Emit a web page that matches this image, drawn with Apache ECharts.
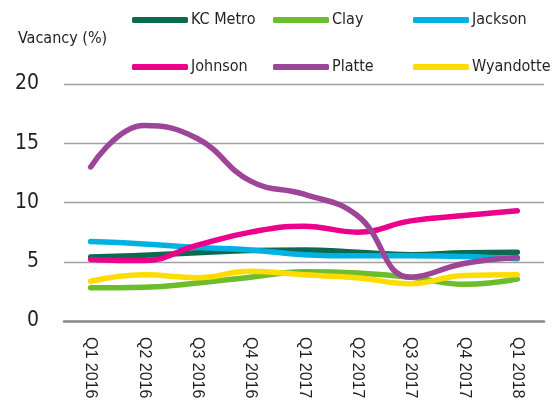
<!DOCTYPE html>
<html>
<head>
<meta charset="utf-8">
<script src="https://cdn.jsdelivr.net/npm/echarts@6/dist/echarts.min.js"></script>
<style>
    html, body { margin: 0; padding: 0; background: #fff; }
    #chart { width: 560px; height: 407px; }
</style>
</head>
<body>
<div id="chart"></div>
<script>
// quarters on the x axis
var categories = ['Q1 2016', 'Q2 2016', 'Q3 2016', 'Q4 2016', 'Q1 2017', 'Q2 2017', 'Q3 2017', 'Q4 2017', 'Q1 2018'];
var yTicks = [0, 5, 10, 15, 20];

// vacancy (%) per area
var kcMetro   = [5.4, 5.55, 5.75, 5.95, 6.0, 5.8, 5.6, 5.75, 5.8];
var clay      = [2.8, 2.85, 3.2, 3.7, 4.15, 4.05, 3.7, 3.1, 3.55];
var jackson   = [6.7, 6.5, 6.2, 6.0, 5.6, 5.5, 5.5, 5.45, 5.25];
var johnson   = [5.2, 5.1, 6.4, 7.5, 8.0, 7.5, 8.45, 8.9, 9.3];
var platte    = [13.0, 16.5, 15.4, 11.8, 10.7, 8.9, 3.7, 4.85, 5.35];
var wyandotte = [3.35, 3.9, 3.65, 4.2, 3.9, 3.65, 3.15, 3.85, 3.9];

var names  = ['KC Metro', 'Clay', 'Jackson', 'Johnson', 'Platte', 'Wyandotte'];
var values = [kcMetro, clay, jackson, johnson, platte, wyandotte];
var colors = ['#0b6b50', '#6cbd2c', '#00b1e1', '#ec008c', '#9e4598', '#ffdc00'];

var narrow = '"DejaVu Sans Condensed", "Liberation Sans Narrow", sans-serif';
var ink = '#231f20';

function legendCol(left, data) {
    return {
        orient: 'vertical',
        left: left,
        top: 10,
        padding: 0,
        icon: 'roundRect',
        itemWidth: 56,
        itemHeight: 6,
        itemGap: 27,
        textStyle: { fontFamily: narrow, fontSize: 16, color: ink, lineHeight: 20, padding: [0, 0, 0, -2] },
        data: data
    };
}

var myChart = echarts.init(document.getElementById('chart'), null, { renderer: 'canvas' });

var series = names.map(function (n, i) {
    return {
        name: n,
        type: 'line',
        smooth: 0.45,
        showSymbol: false,
        data: values[i],
        lineStyle: { width: 5.5, color: colors[i], cap: 'round', join: 'round' },
        itemStyle: { color: colors[i] }
    };
});

var option = {
    animation: false,
    color: colors,
    title: {
        text: 'Vacancy (%)',
        left: 18,
        top: 31,
        padding: 0,
        textStyle: { fontFamily: narrow, fontSize: 16, fontWeight: 'normal', color: ink }
    },
    legend: [
        legendCol(132, ['KC Metro', 'Johnson']),
        legendCol(273, ['Clay', 'Platte']),
        legendCol(413, ['Jackson', 'Wyandotte'])
    ],
    grid: { left: 64, right: 16, top: 84, bottom: 86 },
    xAxis: {
        type: 'category',
        data: categories,
        boundaryGap: true,
        axisLine: { show: true, lineStyle: { color: '#8a8a8a', width: 2.5 } },
        axisTick: { show: false },
        axisLabel: {
            rotate: -90,
            margin: 16,
            fontFamily: '"Liberation Sans", Arial, sans-serif',
            fontSize: 16,
            color: ink
        }
    },
    yAxis: {
        type: 'value',
        min: yTicks[0],
        max: yTicks[yTicks.length - 1],
        interval: yTicks[1] - yTicks[0],
        axisLine: { show: false },
        axisTick: { show: false },
        splitLine: { lineStyle: { color: '#a0a0a0', width: 1.3 } },
        axisLabel: { margin: 25, fontFamily: narrow, fontSize: 21, color: ink }
    },
    series: series
};

myChart.setOption(option);
</script>
</body>
</html>
